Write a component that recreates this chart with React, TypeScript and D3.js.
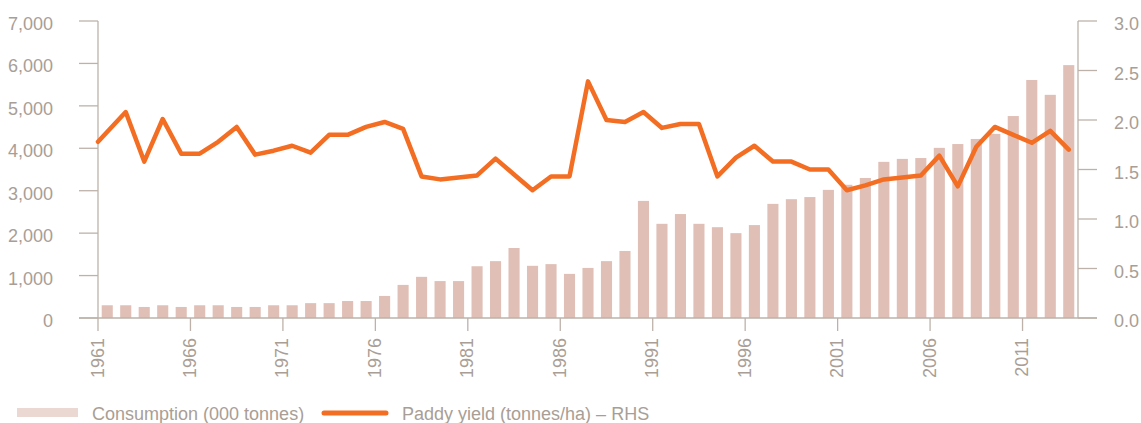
import React from "react";
import * as d3 from "d3";

const years: number[] = d3.range(1961, 2014);

const consumption: number[] = [
  300, 300, 260, 300, 260, 300, 300, 260, 260, 300,
  300, 350, 350, 400, 400, 520, 780, 970, 870, 870,
  1220, 1340, 1650, 1230, 1270, 1040, 1180, 1340, 1580, 2760,
  2220, 2450, 2220, 2140, 2000, 2190, 2690, 2800, 2850, 3020,
  3140, 3300, 3680, 3750, 3770, 4010, 4100, 4220, 4340, 4760,
  5610, 5260, 5960,
];

const paddyYield: number[] = [
  1.78, 2.08, 1.58, 2.01, 1.66, 1.66, 1.78, 1.93, 1.65, 1.69,
  1.74, 1.67, 1.85, 1.85, 1.93, 1.98, 1.91, 1.43, 1.40, 1.42,
  1.44, 1.61, 1.45, 1.29, 1.43, 1.43, 2.39, 2.00, 1.98, 2.08,
  1.92, 1.96, 1.96, 1.43, 1.62, 1.74, 1.58, 1.58, 1.50, 1.50,
  1.29, 1.34, 1.40, 1.42, 1.44, 1.64, 1.33, 1.73, 1.93, 1.85,
  1.77, 1.89, 1.70,
];

const leftTicks: number[] = [0, 1000, 2000, 3000, 4000, 5000, 6000, 7000];
const rightTicks: number[] = [0, 0.5, 1.0, 1.5, 2.0, 2.5, 3.0];
const xTickYears: number[] = [1961, 1966, 1971, 1976, 1981, 1986, 1991, 1996, 2001, 2006, 2011];

const legendBar = "Consumption (000 tonnes)";
const legendLine = "Paddy yield (tonnes/ha) – RHS";

const W = 1141;
const H = 423;
const plotLeft = 98;
const plotRight = 1078;
const plotTop = 21;
const plotBottom = 318;
const tickLen = 19;

const BAR = "#e0bfb6";
const LINE = "#f36d22";
const AXIS = "#bdb2aa";
const TEXT = "#a99e95";
const FONT = "'Liberation Sans', Arial, Helvetica, sans-serif";

export default function App() {
  const x = d3
    .scaleBand<number>()
    .domain(years)
    .range([plotLeft, plotRight])
    .paddingInner(0.4)
    .paddingOuter(0.2);
  const yL = d3.scaleLinear().domain([0, 7000]).range([plotBottom, plotTop]);
  const yR = d3.scaleLinear().domain([0, 3]).range([plotBottom, plotTop]);
  const step = x.step();
  const tickX = (yr: number) => (x(yr) as number) - step * x.paddingOuter();

  const line = d3
    .line<number>()
    .x((_, i) => (i === 0 ? x.range()[0] : (x(years[i]) as number) + x.bandwidth() / 2))
    .y((d) => yR(d));

  const fmtL = d3.format(",");
  const fmtR = d3.format(".1f");

  return (
    <svg
      width={W}
      height={H}
      style={{ position: "absolute", left: 0, top: 0, background: "#fff" }}
      fontFamily={FONT}
    >
      {/* bars */}
      <g>
        {years.map((yr, i) => (
          <rect
            key={yr}
            x={x(yr)}
            y={yL(consumption[i])}
            width={x.bandwidth()}
            height={plotBottom - yL(consumption[i])}
            fill={BAR}
          />
        ))}
      </g>

      {/* axes */}
      <g stroke={AXIS} strokeWidth={1.3} fill="none">
        <line x1={plotLeft} x2={plotLeft} y1={plotTop} y2={plotBottom} />
        <line x1={plotRight} x2={plotRight} y1={plotTop} y2={plotBottom} />
        <line x1={plotLeft - tickLen} x2={plotRight + tickLen} y1={plotBottom} y2={plotBottom} />
        {leftTicks.map((t) => (
          <line key={"l" + t} x1={plotLeft - tickLen} x2={plotLeft} y1={yL(t)} y2={yL(t)} />
        ))}
        {rightTicks.map((t) => (
          <line key={"r" + t} x1={plotRight} x2={plotRight + tickLen} y1={yR(t)} y2={yR(t)} />
        ))}
        {xTickYears.map((yr) => (
          <line key={"x" + yr} x1={tickX(yr)} x2={tickX(yr)} y1={plotBottom} y2={plotBottom + 13} />
        ))}
      </g>

      {/* line */}
      <path
        d={line(paddyYield) || ""}
        fill="none"
        stroke={LINE}
        strokeWidth={4.5}
        strokeLinejoin="round"
        strokeLinecap="round"
      />

      {/* tick labels */}
      <g fill={TEXT} fontSize={18}>
        {leftTicks.map((t) => (
          <text key={"lt" + t} x={53} y={yL(t) + 9} textAnchor="end">
            {fmtL(t)}
          </text>
        ))}
        {rightTicks.map((t) => (
          <text key={"rt" + t} x={1114} y={yR(t) + 9} textAnchor="start">
            {fmtR(t)}
          </text>
        ))}
        {xTickYears.map((yr) => (
          <text
            key={"xt" + yr}
            transform={`translate(${tickX(yr) + 5.5},${338}) rotate(-90)`}
            textAnchor="end"
          >
            {yr}
          </text>
        ))}
      </g>

      {/* legend */}
      <g>
        <rect x={17} y={408} width={61} height={9} fill="#ebd8d3" />
        <text x={92} y={420} fill={TEXT} fontSize={18}>
          {legendBar}
        </text>
        <line x1={324} x2={386} y1={413} y2={413} stroke={LINE} strokeWidth={5} strokeLinecap="round" />
        <text x={402} y={420} fill={TEXT} fontSize={18}>
          {legendLine}
        </text>
      </g>
    </svg>
  );
}
